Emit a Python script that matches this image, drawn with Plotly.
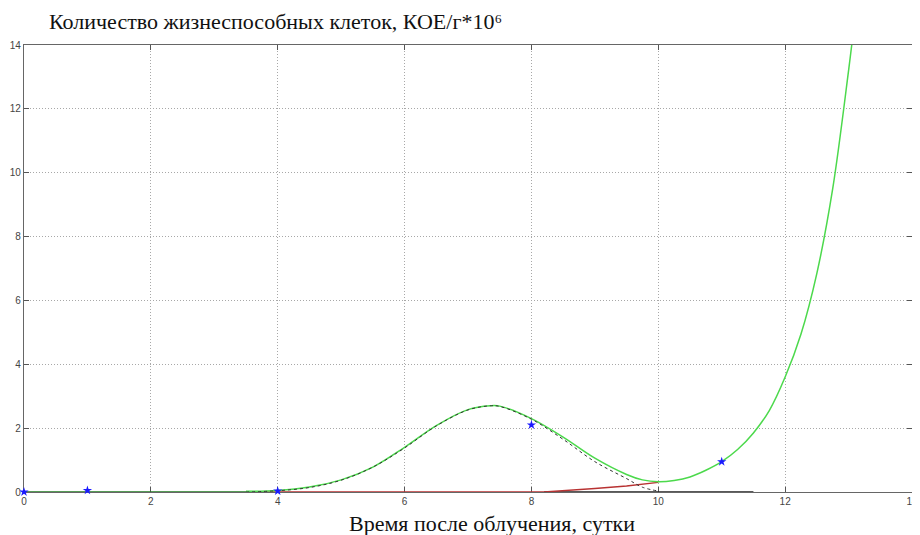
import plotly.graph_objects as go

# измерения (синие звёздочки)
days_obs = [0, 1, 4, 8, 11]
cfu_obs = [0.0, 0.05, 0.03, 2.1, 0.95]

# начальный участок (тёмно-зелёный)
x_start = [0, 3.5]
y_start = [0, 0]

# суммарная аппроксимация (зелёная)
x_fit = [3.5, 4, 4.5, 5, 5.5, 6, 6.5, 7, 7.35, 7.5, 8, 8.5, 9, 9.5, 9.75, 10,
         10.25, 10.5, 10.75, 11, 11.25, 11.5, 11.75, 12, 12.25, 12.5, 12.75, 13, 13.05]
y_fit = [0.02, 0.05, 0.16, 0.38, 0.78, 1.40, 2.08, 2.58, 2.70, 2.69, 2.30, 1.72, 1.06, 0.55, 0.38, 0.32,
         0.36, 0.47, 0.68, 0.95, 1.33, 1.85, 2.55, 3.6, 4.95, 6.85, 9.5, 13.2, 14.0]

# первая волна (чёрный пунктир)
x_wave = [3.5, 4, 4.5, 5, 5.5, 6, 6.5, 7, 7.35, 7.5, 8, 8.5, 9, 9.5, 9.75, 10]
y_wave = [0.0, 0.04, 0.14, 0.37, 0.78, 1.38, 2.07, 2.57, 2.70, 2.68, 2.28, 1.65, 0.95, 0.42, 0.15, 0.03]

# хвост первой волны у нуля (чёрный)
x_tail = [8.2, 11.5]
y_tail = [0, 0]

# вторая волна (красная)
x_growth = [3.5, 8.2, 9, 9.5, 10]
y_growth = [0.0, 0.0, 0.11, 0.19, 0.30]

fig = go.Figure()
fig.add_trace(go.Scatter(x=x_start, y=y_start, mode='lines',
                         line=dict(color='#1f7a1f', width=1.6)))
fig.add_trace(go.Scatter(x=x_tail, y=y_tail, mode='lines',
                         line=dict(color='#222222', width=1.6)))
fig.add_trace(go.Scatter(x=x_growth, y=y_growth, mode='lines',
                         line=dict(color='#b83232', width=1.4)))
fig.add_trace(go.Scatter(x=x_fit, y=y_fit, mode='lines', line_shape='spline',
                         line=dict(color='#4cd94c', width=1.5)))
fig.add_trace(go.Scatter(x=x_wave, y=y_wave, mode='lines', line_shape='spline',
                         line=dict(color='#333333', width=1, dash='3px,3px')))
fig.add_trace(go.Scatter(x=days_obs, y=cfu_obs, mode='markers', cliponaxis=False,
                         marker=dict(symbol='star', size=7, color='#1a1aff')))

axis_style = dict(
    range=[0, 14], dtick=2, showgrid=True, gridcolor='#a8a8a8', griddash='1px,2px', gridwidth=1,
    showline=True, linecolor='#666666', linewidth=1.2, mirror='ticks', layer='below traces',
    ticks='inside', ticklen=5, tickcolor='#555555', zeroline=False, automargin=False,
    ticklabeloverflow='allow',
    tickfont=dict(family='Liberation Sans, Arial', size=10, color='#444444'),
)

# страница смещена на 8px (отступ body), поэтому поля подобраны под это
fig.update_layout(
    width=920, height=527,
    margin=dict(l=16, r=16, t=37, b=43),
    plot_bgcolor='white', paper_bgcolor='white',
    showlegend=False,
    xaxis=dict(**axis_style),
    yaxis=dict(**axis_style),
    annotations=[
        dict(text='Количество жизнеспособных клеток, КОЕ/г*10⁶',
             xref='paper', yref='paper', x=(47 - 24) / 888, y=1, yshift=9,
             xanchor='left', yanchor='bottom', showarrow=False,
             font=dict(family='Liberation Serif, Times New Roman', size=22, color='#111111')),
        dict(text='Время после облучения, сутки',
             xref='paper', yref='paper', x=(492 - 24) / 888, y=0, yshift=-17,
             xanchor='center', yanchor='top', showarrow=False,
             font=dict(family='Liberation Serif, Times New Roman', size=22, color='#111111')),
    ],
)

# без полос прокрутки, чтобы подпись «14» справа не обрезалась
fig.write_html("out.html", post_script="document.body.style.overflow = 'hidden';")
